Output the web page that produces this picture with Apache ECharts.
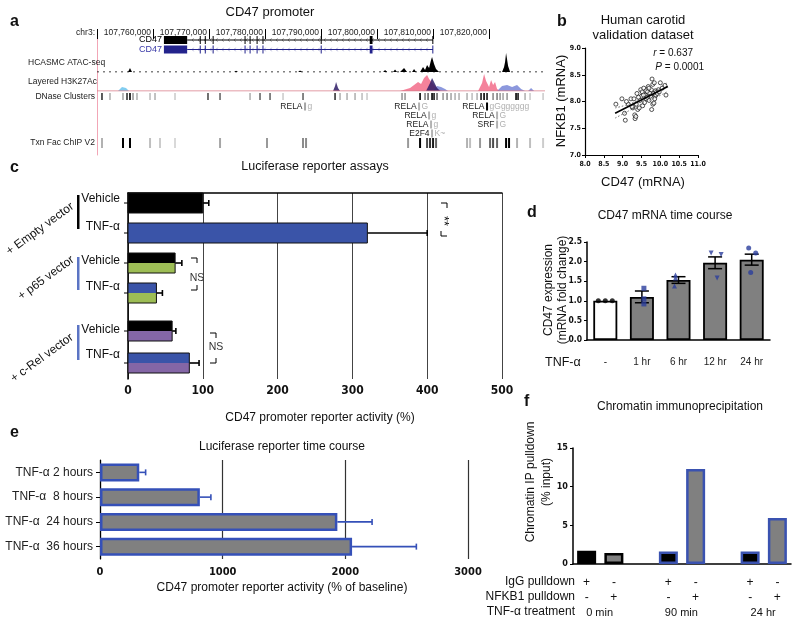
<!DOCTYPE html>
<html><head><meta charset="utf-8">
<script src="https://cdn.jsdelivr.net/npm/echarts@6/dist/echarts.min.js"></script>
<style>html,body{margin:0;padding:0;background:#fff}#c{width:800px;height:624px}</style>
</head><body><div id="c"></div><script>
// ---------------- DATA ----------------
// Panel a: genome browser (chr3, bp)
const genomeMin = 107750000, genomeMax = 107830000;
const geneTranscripts = ['CD47', 'CD47'];
const geneStart = 107761950, geneEnd = 107810000;
const utrBlock = [107761950, 107766100];
const geneExons = [[107768350,107768500],[107769250,107769400],[107770650,107770800],[107776350,107776500],[107777250,107777400],[107778500,107778650],[107779550,107779700],[107789950,107790100],[107798700,107799200],[107809880,107810000]];
const atacSignal = [
 [107755540,0],[107755890,4],[107756250,0],
 [107764470,0],[107764820,1.5],[107765180,0],
 [107774470,0],[107774830,1.2],[107775190,0],
 [107785900,0],[107786260,1.5],[107786620,0],
 [107793940,0],[107794290,2],[107794650,0],
 [107801080,0],[107801440,2],[107801800,0],
 [107802860,0],[107803220,2.5],[107803580,0],
 [107804120,0],[107804830,4],[107805370,0],
 [107806260,0],[107806620,3],[107806970,0],
 [107807690,0],[107808220,5],[107808580,2],[107808940,7],[107809300,4],[107809650,12],[107809830,15],[107810190,8],[107810540,3],[107811080,0],
 [107822330,0],[107822690,5],[107822870,10],[107823050,19],[107823410,6],[107823770,0]
];
const h3kPink = [
 [107804120,0],[107805900,3],[107806620,6],[107807330,9],[107807870,7],[107808400,13],[107808940,16],[107809300,12],[107809650,14],[107810190,6],[107810900,2],[107811620,0],
 [107818050,0],[107818760,8],[107819120,17],[107819480,10],[107820010,4],[107820370,11],[107820730,6],[107821080,9],[107821440,2],[107821980,0]
];
const h3kLightBlue = [[107753750,0],[107754465,4],[107754820,6],[107755180,3],[107755720,0]];
const h3kBlue = [
 [107810010,0],[107810720,5],[107811440,4],[107812150,2],[107812690,0],
 [107821440,0],[107822330,5],[107823230,6],[107824120,4],[107825010,6],[107825730,2],[107826440,0],
 [107826980,0],[107827510,3],[107828050,0]
];
const h3kPurple = [
 [107792150,0],[107792510,5],[107792690,9],[107793040,3],[107793400,0],
 [107808760,0],[107809470,8],[107809830,13],[107810190,9],[107810720,3],[107811260,0]
];
// [position, shade 0..1]
const dnaseClusters = [
 [107750890,.8],[107752320,.3],[107754640,.35],[107755360,.8],[107755890,1],[107756430,.4],[107757140,.3],[107759470,.25],[107760360,.3],[107763930,.2],
 [107769820,.7],[107771970,.6],[107777330,.3],[107779110,.6],[107780900,.6],[107783220,.2],[107786790,.6],[107792510,.8],[107793400,.3],[107794650,.3],
 [107796080,.3],[107797330,.25],[107798220,.2],[107804470,.4],[107805010,.4],[107807690,1],[107808580,.5],[107809120,.6],[107809830,1],[107810190,.9],
 [107810720,.6],[107811800,.4],[107812510,.45],[107813220,.35],[107813940,.3],[107814650,.3],[107816080,.3],[107816980,.25],[107817870,.3],[107818580,.9],
 [107819120,1],[107819650,.9],[107820730,.45],[107821440,.5],[107821980,.4],[107822510,.35],[107823230,.4],[107824830,1],[107825190,.9],[107826440,.3],
 [107827330,.2],[107829660,.2]
];
const tfChip = [
 [107750890,.3],[107754640,1],[107755890,1],[107759470,.25],[107761250,.2],[107763930,.15],[107771970,.35],[107780360,.4],[107786790,.45],[107787330,.45],
 [107805550,.4],[107807690,1],[107808940,.7],[107809470,.8],[107810010,.9],[107810550,.6],[107816080,.3],[107816620,.25],[107818400,.4],[107820190,.6],
 [107820730,.7],[107821440,.6],[107823050,1],[107823580,1],[107825010,.3],[107827330,.25],[107829660,.2]
];
// [position, row, factor, motif letters, shade]
const tfSites = [
 [107787150,0,'RELA','g',.35],
 [107807510,0,'RELA','G',.3],
 [107809300,1,'RELA','g',.3],
 [107809650,2,'RELA','g',.3],
 [107809830,3,'E2F4','K~',.3],
 [107819650,0,'RELA','gGgggggg',1],
 [107821440,1,'RELA','G',.3],
 [107821440,2,'SRF','G',.3]
];
const trackNames = ['HCASMC ATAC-seq','Layered H3K27Ac','DNase Clusters','Txn Fac ChIP V2'];

// Panel b: human carotid validation dataset
const carotidCD47 = [8.82,8.98,9.05,9.07,9.15,9.22,9.27,9.28,9.30,9.32,9.33,9.36,9.38,9.40,9.44,9.46,9.48,9.50,9.52,9.53,9.56,9.58,9.60,9.62,9.63,9.66,9.68,9.70,9.72,9.74,9.76,9.77,9.78,9.80,9.80,9.82,9.83,9.84,9.86,9.87,9.88,9.90,9.92,9.95,9.97,10.00,10.05,10.12,10.15,9.10,9.25,9.42,9.55,9.65,9.70,9.85,9.35];
const carotidNFKB1 = [7.95,8.05,7.78,7.65,7.95,8.05,7.88,7.92,8.05,7.75,7.68,7.95,8.15,7.85,7.88,8.02,8.22,8.10,8.18,7.92,8.25,7.98,8.12,8.20,8.05,8.18,8.28,8.02,8.15,8.10,8.22,7.85,8.42,7.95,8.32,8.15,7.97,8.35,8.10,8.20,8.12,8.18,8.15,8.22,8.18,8.35,8.25,8.30,8.12,8.00,7.90,8.08,8.12,8.08,8.25,8.05,7.72];
const regressionLine = [[8.8,7.78],[10.2,8.28]];
const ciUpper = [[8.8,7.88],[9.2,7.96],[9.6,8.09],[9.9,8.21],[10.2,8.36]];
const ciLower = [[8.8,7.69],[9.2,7.84],[9.6,7.99],[9.9,8.08],[10.2,8.19]];
const corrR = '0.637', corrP = '0.0001';

// Panel c: luciferase reporter assays (%)
const cGroups = ['+ Empty vector','+ p65 vector','+ c-Rel vector'];
const cRows = ['Vehicle','TNF-α','Vehicle','TNF-α','Vehicle','TNF-α'];
const cValues = [100, 320, 63, 38, 59, 82];
const cErrTop = [108, 400, 72, 46, 64, 95];

// Panel d: CD47 mRNA time course
const dCats = ['-','1 hr','6 hr','12 hr','24 hr'];
const dMeans = [1.00, 1.10, 1.53, 1.97, 2.05];
const dSem = [0.0, 0.15, 0.085, 0.15, 0.14];
const dPoints = [[1.0,1.0,1.0],[1.32,1.05,0.92],[1.66,1.58,1.38],[2.22,2.18,1.58],[2.35,2.22,1.72]];

// Panel e: luciferase reporter time course (% of baseline)
const eCats = ['TNF-α 2 hours','TNF-α  8 hours','TNF-α  24 hours','TNF-α  36 hours'];
const eValues = [320, 814, 1935, 2055];
const eErrTop = [372, 904, 2218, 2579];

// Panel f: chromatin IP (% input)
const fGroups = ['0 min','90 min','24 hr'];
const fIgG = [1.72, 1.62, 1.62];
const fNFKB1 = [1.42, 12.3, 5.95];

// ---------------- LAYOUT / STYLE ----------------
const F = '"Liberation Sans", Arial, sans-serif';
const N = '"Liberation Sans Narrow", "DejaVu Sans Condensed", "Liberation Sans", sans-serif';
const geneRowY = [10, 19.5];
const geneColors = ['#000000', '#23238c'];
const tfRowY = [76.5, 85.5, 94.5, 103.5];
const cRowSlot = [1, 4, 7, 10, 13.8, 17];
const BLUE = '#3a54a8', GREEN = '#9dbd55', PURPLE = '#8466a6';
const cTop = ['#000', BLUE, '#000', BLUE, '#000', BLUE];
const cBot = ['#000', BLUE, GREEN, GREEN, PURPLE, PURPLE];
const dSymbols = ['circle','rect','triangle','triangle','circle'];
const dRot = [0,0,0,180,0];
const dJit = [[-7,0,7],[2,2,2],[-3,-3,-4],[-4,6,2],[-3,4,-1]];
const PT = '#2b3d9c';

function T(text, x, y, o) {
  o = o || {};
  return {type:'text', x:x, y:y, rotation:o.rot||0, z:50, silent:true,
    style:{text:text, x:0, y:0, align:o.align||'left', verticalAlign:o.va||'middle', fill:o.color||'#111',
      font:(o.bold?'bold ':'')+(o.size||12)+'px '+(o.family||F), rich:o.rich}};
}
function PL(points, color, w) {
  return {type:'polyline', z:50, silent:true, shape:{points:points}, style:{stroke:color||'#000', fill:null, lineWidth:w||1}};
}
function RC(x,y,w,h,color){ return {type:'rect', z:50, silent:true, shape:{x:x,y:y,width:w,height:h}, style:{fill:color}}; }

const fCats = [];
fGroups.forEach((g,i)=>{ fCats.push(g+' IgG', g+' NFKB1'); if (i < fGroups.length-1) fCats.push(''); });

function gx(i, extra){ return Object.assign({gridIndex:i, type:'value', min:genomeMin, max:genomeMax, show:false}, extra||{}); }
const axBlack = {lineStyle:{color:'#000', width:1.2}};
const plain = v => String(v);

const graphic = [
  T('a', 10, 22, {bold:true, size:16}),
  T('CD47 promoter', 270, 12, {align:'center', size:13}),
  T(trackNames[0], 28, 63, {size:8.5, color:'#222'}),
  T(trackNames[1], 28, 82, {size:8.5, color:'#222'}),
  T(trackNames[2], 95, 97, {size:8.5, align:'right', color:'#222'}),
  T(trackNames[3], 95, 143, {size:8.5, align:'right', color:'#222'}),
  T('b', 557, 22, {bold:true, size:16}),
  T('Human carotid', 643, 20, {align:'center', size:13}),
  T('validation dataset', 643, 35, {align:'center', size:13}),
  T('{i|r} = '+corrR, 693, 53, {align:'right', size:10, rich:{i:{font:'italic 10px '+F, fill:'#111'}}}),
  T('{i|P} = '+corrP, 704, 67, {align:'right', size:10, rich:{i:{font:'italic 10px '+F, fill:'#111'}}}),
  T('NFKB1 (mRNA)', 561, 101, {align:'center', size:13, rot:Math.PI/2}),
  T('CD47 (mRNA)', 643, 182, {align:'center', size:13}),
  T('c', 10, 168, {bold:true, size:16}),
  T('Luciferase reporter assays', 315, 167, {align:'center', size:12.5}),
  T(cRows[0], 120, 199, {align:'right', size:12}),
  T(cRows[1], 120, 227, {align:'right', size:12}),
  T(cRows[2], 120, 261, {align:'right', size:12}),
  T(cRows[3], 120, 287, {align:'right', size:12}),
  T(cRows[4], 120, 330, {align:'right', size:12}),
  T(cRows[5], 120, 355, {align:'right', size:12}),
  T(cGroups[0], 40, 229, {align:'center', size:12, rot:0.63}),
  T(cGroups[1], 46, 278, {align:'center', size:12, rot:0.63}),
  T(cGroups[2], 42, 358, {align:'center', size:12, rot:0.63}),
  RC(77, 195, 2.5, 34, '#000'), RC(77, 257, 2.5, 33, '#5b74c4'), RC(77, 325, 2.5, 35, '#5b74c4'),
  PL([[441,203],[447,203],[447,208]]), PL([[441,231],[441,236],[447,236]]),
  T('**', 444, 221, {align:'center', size:13, rot:-Math.PI/2}),
  PL([[191,258],[197,258],[197,263]]), PL([[191,290],[197,290],[197,285]]),
  T('NS', 197, 278, {align:'center', size:10.5, color:'#333'}),
  PL([[210,333],[216,333],[216,338]]), PL([[210,363],[216,363],[216,358]]),
  T('NS', 216, 347, {align:'center', size:10.5, color:'#333'}),
  T('CD47 promoter reporter activity (%)', 320, 418, {align:'center', size:12}),
  T('d', 527, 213, {bold:true, size:16}),
  T('CD47 mRNA time course', 665, 216, {align:'center', size:12}),
  T('CD47 expression', 549, 290, {align:'center', size:12, rot:Math.PI/2}),
  T('(mRNA fold change)', 563, 290, {align:'center', size:12, rot:Math.PI/2}),
  T('TNF-α', 545, 363, {size:12.5}),
  T('e', 10, 433, {bold:true, size:16}),
  T('Luciferase reporter time course', 282, 447, {align:'center', size:12}),
  T('CD47 promoter reporter activity (% of baseline)', 282, 588, {align:'center', size:12}),
  T('f', 524, 402, {bold:true, size:16}),
  T('Chromatin immunoprecipitation', 680, 407, {align:'center', size:12}),
  T('Chromatin IP pulldown', 531, 482, {align:'center', size:12, rot:Math.PI/2}),
  T('(% input)', 547, 482, {align:'center', size:12, rot:Math.PI/2}),
  T('IgG pulldown', 575, 582, {align:'right', size:12}),
  T('NFKB1 pulldown', 575, 597, {align:'right', size:12}),
  T('TNF-α treatment', 575, 612, {align:'right', size:12})
];

const option = {
  animation:false,
  backgroundColor:'#fff',
  graphic: graphic,
  grid: [
    {left:97, top:38, width:448, height:1},
    {left:97, top:30, width:448, height:125},
    {left:97, top:53, width:448, height:19},
    {left:97, top:72, width:448, height:19},
    {left:585, top:48, width:113, height:107},
    {left:128, top:193, width:374, height:186},
    {left:587, top:242, width:183, height:98},
    {left:100, top:460, width:368, height:99},
    {left:573, top:448, width:218, height:116}
  ].map(g => Object.assign({outerBoundsMode:'none', containLabel:false}, g)),
  xAxis: [
    {gridIndex:0, type:'value', min:genomeMin, max:genomeMax, interval:10000, position:'top',
      axisLine:{show:false}, splitLine:{show:false},
      axisTick:{show:true, length:10, lineStyle:{color:'#000', width:1}},
      axisLabel:{align:'right', verticalAlign:'middle', margin:5, padding:[0,2,0,0], fontSize:8.5, fontFamily:F, color:'#222',
        showMaxLabel:false, formatter:v => v === genomeMin ? 'chr3:' : v.toLocaleString('en-US')}},
    gx(1), gx(2), gx(3),
    {gridIndex:4, type:'value', min:8, max:11, interval:0.5, axisLine:axBlack, splitLine:{show:false},
      axisTick:{length:3, lineStyle:{color:'#000'}},
      axisLabel:{fontSize:7, fontWeight:'bold', fontFamily:N, color:'#111', margin:6, formatter:v=>v.toFixed(1)}},
    {gridIndex:5, type:'value', min:0, max:500, interval:100, axisLine:{lineStyle:{color:'#000', width:1.5}},
      axisTick:{show:false}, splitLine:{show:true, lineStyle:{color:'#444', width:1}},
      axisLabel:{fontSize:12, fontWeight:'bold', fontFamily:N, color:'#111', margin:6, formatter:plain}},
    {gridIndex:6, type:'category', data:dCats, axisLine:{lineStyle:{color:'#000', width:1.5}},
      axisTick:{alignWithLabel:true, length:3, lineStyle:{color:'#000'}},
      axisLabel:{fontSize:10, fontFamily:F, color:'#222', margin:17, interval:0}},
    {gridIndex:7, type:'value', min:0, max:3000, interval:1000, axisLine:{lineStyle:{color:'#000', width:1.2}},
      axisTick:{show:false}, splitLine:{show:true, lineStyle:{color:'#333', width:1.2}},
      axisLabel:{fontSize:11, fontWeight:'bold', fontFamily:N, color:'#111', margin:8, formatter:plain}},
    {gridIndex:8, type:'category', data:fCats, axisLine:{lineStyle:{color:'#000', width:1.5}},
      axisTick:{alignWithLabel:true, length:5, interval:(i)=> i%3===2, lineStyle:{color:'#000'}},
      axisLabel:{interval:0, fontSize:12, fontFamily:F, color:'#111', margin:11, lineHeight:15,
        formatter:(v, idx) => {
          const k = idx % 3, g = Math.floor(idx/3);
          if (k === 2) return '';
          let s = (k===0?'+':'-') + '\n' + (k===1?'+':'-');
          if (k === 0) s += '\n{t|' + fGroups[g] + '}';
          return s;
        },
        rich:{t:{fontSize:11, fontFamily:F, color:'#111', padding:[0,0,0,26], lineHeight:15}}}}
  ],
  yAxis: [
    {gridIndex:0, type:'value', show:false},
    {gridIndex:1, type:'value', min:0, max:125, inverse:true, axisLine:{show:true, lineStyle:{color:'#f2a6b6', width:1}},
      axisTick:{show:false}, axisLabel:{show:false}, splitLine:{show:false}},
    {gridIndex:2, type:'value', min:0, max:19, show:false},
    {gridIndex:3, type:'value', min:0, max:19, show:false},
    {gridIndex:4, type:'value', min:7, max:9, interval:0.5, axisLine:Object.assign({show:true}, axBlack), splitLine:{show:false},
      axisTick:{show:true, length:3, lineStyle:{color:'#000'}},
      axisLabel:{fontSize:7, fontWeight:'bold', fontFamily:N, color:'#111', margin:4, formatter:v=>v.toFixed(1)}},
    {gridIndex:5, type:'value', min:0, max:18.6, inverse:true, axisLine:{show:true, lineStyle:{color:'#000', width:1.5}},
      axisTick:{show:false}, axisLabel:{show:false}, splitLine:{show:false}},
    {gridIndex:6, type:'value', min:0, max:2.5, interval:0.5, axisLine:{show:true, lineStyle:{color:'#000', width:1.5}}, splitLine:{show:false},
      axisTick:{show:true, length:3, lineStyle:{color:'#000'}},
      axisLabel:{fontSize:8.5, fontWeight:'bold', fontFamily:N, color:'#111', margin:5, formatter:v=>v.toFixed(1)}},
    {gridIndex:7, type:'category', data:eCats, inverse:true, axisLine:{show:true, lineStyle:{color:'#000', width:1.2}},
      axisTick:{show:true, alignWithLabel:true, length:4, lineStyle:{color:'#000'}},
      axisLabel:{fontSize:12, fontFamily:F, color:'#222', margin:7}},
    {gridIndex:8, type:'value', min:0, max:15, interval:5, axisLine:{show:true, lineStyle:{color:'#000', width:1.5}}, splitLine:{show:false},
      axisTick:{show:true, length:3, lineStyle:{color:'#000'}},
      axisLabel:{fontSize:9, fontWeight:'bold', fontFamily:N, color:'#111', margin:5, formatter:plain}}
  ],
  series: [
    // ---- panel a ----
    {type:'custom', xAxisIndex:1, yAxisIndex:1, data:geneTranscripts.map((t,i)=>[geneStart, i]), silent:true,
      renderItem:(params, api) => {
        const i = params.dataIndex, col = geneColors[i];
        const y = api.coord([genomeMin, geneRowY[i]])[1];
        const x1 = api.coord([geneEnd, 0])[0];
        const b0 = api.coord([utrBlock[0], 0])[0], b1 = api.coord([utrBlock[1], 0])[0];
        const ch = [{type:'line', shape:{x1:b1, y1:y, x2:x1, y2:y}, style:{stroke:col, lineWidth:1}}];
        for (let x = b1 + 5; x < x1 - 3; x += 6) ch.push({type:'polyline', shape:{points:[[x+1.5,y-1.8],[x,y],[x+1.5,y+1.8]]}, style:{stroke:col, fill:null, lineWidth:0.6, opacity:0.6}});
        ch.push({type:'rect', shape:{x:b0, y:y-4, width:b1-b0, height:8}, style:{fill:col}});
        geneExons.forEach(e => { const xs = api.coord([e[0],0])[0], xe = api.coord([e[1],0])[0];
          ch.push({type:'rect', shape:{x:xs, y:y-4, width:Math.max(1, xe-xs), height:8}, style:{fill:col}}); });
        ch.push({type:'text', style:{text:geneTranscripts[i], x:b0-2, y:y, align:'right', verticalAlign:'middle', fill:i?'#3a3aa8':'#000', font:'9px '+F}});
        return {type:'group', children:ch};
      }},
    {type:'custom', xAxisIndex:1, yAxisIndex:1, data:dnaseClusters, silent:true,
      renderItem:(params, api) => {
        const p = api.coord([api.value(0), 63]), q = api.coord([api.value(0), 70]);
        return {type:'rect', shape:{x:p[0]-0.8, y:p[1], width:1.6, height:q[1]-p[1]}, style:{fill:'rgba(0,0,0,'+api.value(1)+')'}};
      }},
    {type:'custom', xAxisIndex:1, yAxisIndex:1, data:tfChip, silent:true,
      renderItem:(params, api) => {
        const p = api.coord([api.value(0), 108]), q = api.coord([api.value(0), 118]);
        return {type:'rect', shape:{x:p[0]-1, y:p[1], width:2, height:q[1]-p[1]}, style:{fill:'rgba(0,0,0,'+api.value(1)+')'}};
      }},
    {type:'custom', xAxisIndex:1, yAxisIndex:1, data:tfSites.map(s=>[s[0], s[1]]), silent:true,
      renderItem:(params, api) => {
        const s = tfSites[params.dataIndex];
        const p = api.coord([s[0], tfRowY[s[1]]]);
        return {type:'group', children:[
          {type:'rect', shape:{x:p[0]-1, y:p[1]-4, width:2, height:8}, style:{fill:'rgba(0,0,0,'+s[4]+')'}},
          {type:'text', style:{text:s[2], x:p[0]-2.5, y:p[1], align:'right', verticalAlign:'middle', fill:'#222', font:'8.5px '+F}},
          {type:'text', style:{text:s[3], x:p[0]+2.5, y:p[1], align:'left', verticalAlign:'middle', fill:'#b0b0b0', font:'8.5px '+F}}
        ]};
      }},
    {type:'line', xAxisIndex:2, yAxisIndex:2, data:[[genomeMin,0],[genomeMax,0]], symbol:'none', silent:true,
      lineStyle:{color:'#000', width:1, type:[2,4]}},
    {type:'line', xAxisIndex:2, yAxisIndex:2, data:atacSignal, symbol:'none', silent:true,
      lineStyle:{width:0}, areaStyle:{color:'#000', opacity:1}},
    {type:'line', xAxisIndex:3, yAxisIndex:3, data:[[genomeMin,0],[genomeMax,0]], symbol:'none', silent:true,
      lineStyle:{color:'#d87a86', width:1}},
    {type:'line', xAxisIndex:3, yAxisIndex:3, data:h3kLightBlue, symbol:'none', silent:true, lineStyle:{width:0}, areaStyle:{color:'#74c8ee', opacity:0.9}},
    {type:'line', xAxisIndex:3, yAxisIndex:3, data:h3kPink, symbol:'none', silent:true, lineStyle:{width:0}, areaStyle:{color:'#f0587a', opacity:0.75}},
    {type:'line', xAxisIndex:3, yAxisIndex:3, data:h3kBlue, symbol:'none', silent:true, lineStyle:{width:0}, areaStyle:{color:'#6676d2', opacity:0.75}},
    {type:'line', xAxisIndex:3, yAxisIndex:3, data:h3kPurple, symbol:'none', silent:true, lineStyle:{width:0}, areaStyle:{color:'#2e1c66', opacity:0.85}},
    // ---- panel b ----
    {type:'line', xAxisIndex:4, yAxisIndex:4, data:ciUpper, symbol:'none', smooth:true, silent:true, lineStyle:{color:'#555', width:0.8, type:[1.5,2]}},
    {type:'line', xAxisIndex:4, yAxisIndex:4, data:ciLower, symbol:'none', smooth:true, silent:true, lineStyle:{color:'#555', width:0.8, type:[1.5,2]}},
    {type:'scatter', xAxisIndex:4, yAxisIndex:4, data:carotidCD47.map((x,i)=>[x, carotidNFKB1[i]]), symbol:'circle', symbolSize:4, silent:true,
      itemStyle:{color:'#fff', borderColor:'#111', borderWidth:0.9}},
    {type:'line', xAxisIndex:4, yAxisIndex:4, data:regressionLine, symbol:'none', silent:true, lineStyle:{color:'#000', width:1.6}, z:5},
    // ---- panel c ----
    {type:'custom', xAxisIndex:5, yAxisIndex:5, data:cValues.map((v,i)=>[v, cRowSlot[i], cErrTop[i]]), silent:true,
      renderItem:(params, api) => {
        const i = params.dataIndex;
        const p0 = api.coord([0, api.value(1)]), p1 = api.coord([api.value(0), api.value(1)]), pe = api.coord([api.value(2), api.value(1)]);
        const h = api.size([0, 2])[1], top = p0[1] - h/2, w = p1[0] - p0[0];
        return {type:'group', children:[
          {type:'line', shape:{x1:p1[0], y1:p0[1], x2:pe[0], y2:p0[1]}, style:{stroke:'#000', lineWidth:1.6}},
          {type:'line', shape:{x1:pe[0], y1:p0[1]-3, x2:pe[0], y2:p0[1]+3}, style:{stroke:'#000', lineWidth:1.6}},
          {type:'rect', shape:{x:p0[0], y:top, width:w, height:h/2}, style:{fill:cTop[i]}},
          {type:'rect', shape:{x:p0[0], y:top+h/2, width:w, height:h/2}, style:{fill:cBot[i]}},
          {type:'rect', shape:{x:p0[0], y:top, width:w, height:h}, style:{fill:null, stroke:'#111', lineWidth:1}},
          {type:'line', shape:{x1:p0[0]-4, y1:p0[1], x2:p0[0], y2:p0[1]}, style:{stroke:'#000', lineWidth:1}}
        ]};
      }},
    // ---- panel d ----
    {type:'bar', xAxisIndex:6, yAxisIndex:6, barWidth:24, silent:true,
      data:dMeans.map((v,i)=>({value:v, itemStyle:{color: i===0 ? '#fff' : '#808080'}})),
      itemStyle:{borderColor:'#000', borderWidth:1.8}},
    {type:'custom', xAxisIndex:6, yAxisIndex:6, data:dMeans.map((m,i)=>[i, m, dSem[i]]), silent:true, z:4,
      renderItem:(params, api) => {
        const i = api.value(0), m = api.value(1), s = api.value(2);
        if (!s) return null;
        const hi = api.coord([i, m+s]), lo = api.coord([i, m-s]);
        return {type:'group', children:[
          {type:'line', shape:{x1:hi[0], y1:hi[1], x2:lo[0], y2:lo[1]}, style:{stroke:'#000', lineWidth:1.5}},
          {type:'line', shape:{x1:hi[0]-7, y1:hi[1], x2:hi[0]+7, y2:hi[1]}, style:{stroke:'#000', lineWidth:1.5}},
          {type:'line', shape:{x1:lo[0]-7, y1:lo[1], x2:lo[0]+7, y2:lo[1]}, style:{stroke:'#000', lineWidth:1.5}}
        ]};
      }},
    {type:'scatter', xAxisIndex:6, yAxisIndex:6, silent:true, z:5, symbolSize:5,
      data:dPoints.flatMap((pts,i)=>pts.map((v,j)=>({value:[i, v], symbol:dSymbols[i], symbolRotate:dRot[i], symbolOffset:[dJit[i][j],0],
        itemStyle:{color: i===0 ? '#000' : PT}})))},
    // ---- panel e ----
    {type:'custom', xAxisIndex:7, yAxisIndex:7, data:eValues.map((v,i)=>[v, i, eErrTop[i]]), silent:true, z:1,
      renderItem:(params, api) => {
        const p = api.coord([api.value(0), api.value(1)]), q = api.coord([api.value(2), api.value(1)]);
        return {type:'group', children:[
          {type:'line', shape:{x1:p[0], y1:p[1], x2:q[0], y2:q[1]}, style:{stroke:'#3550b8', lineWidth:1.6}},
          {type:'line', shape:{x1:q[0], y1:q[1]-3, x2:q[0], y2:q[1]+3}, style:{stroke:'#3550b8', lineWidth:1.6}}
        ]};
      }},
    {type:'bar', xAxisIndex:7, yAxisIndex:7, data:eValues, barWidth:18, silent:true, z:3,
      itemStyle:{color:'#808080', borderColor:'#3550b8', borderWidth:2.5}},
    // ---- panel f ----
    {type:'bar', xAxisIndex:8, yAxisIndex:8, barWidth:19, silent:true,
      data:fCats.map((c, idx) => {
        const k = idx % 3, g = Math.floor(idx / 3);
        if (k === 2) return '-';
        return {value: k===0 ? fIgG[g] : fNFKB1[g],
          itemStyle:{color: k===0 ? '#000' : '#808080', borderColor: g===0 ? '#000' : '#3a52b0', borderWidth:2.5}};
      })}
  ]
};
const chart = echarts.init(document.getElementById('c'), null, {renderer:'canvas'});
chart.setOption(option);
</script></body></html>
